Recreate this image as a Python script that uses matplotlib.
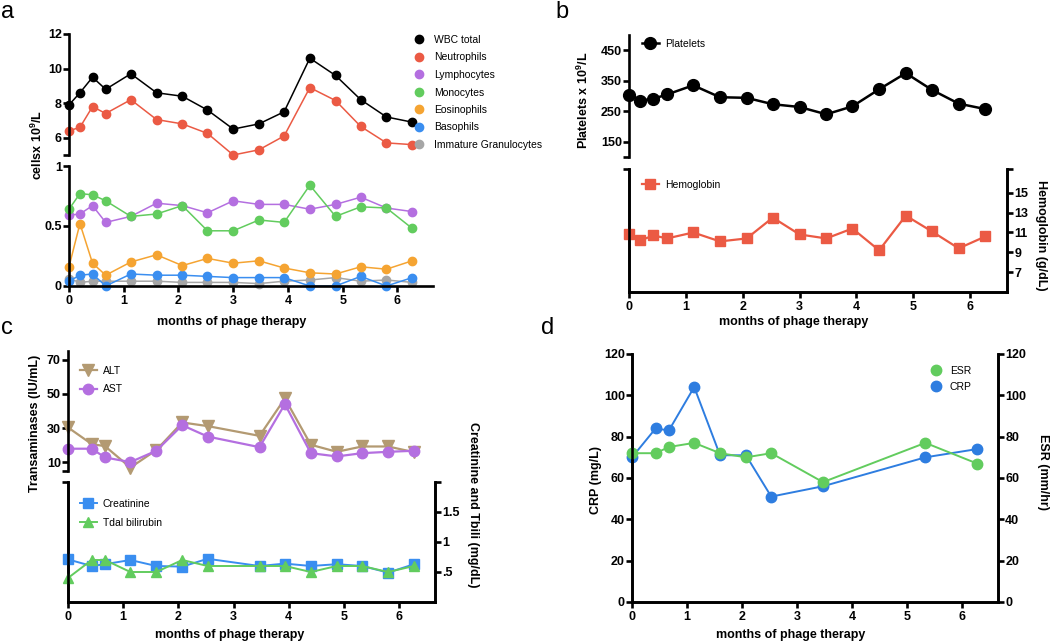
import matplotlib
matplotlib.use("Agg")
import matplotlib.pyplot as plt
from matplotlib.lines import Line2D

plt.rcParams['font.family'] = ['Liberation Sans', 'DejaVu Sans']
plt.rcParams['mathtext.fontset'] = 'custom'
plt.rcParams['mathtext.rm'] = 'Liberation Sans'
plt.rcParams['mathtext.bf'] = 'Liberation Sans:bold'

W, H = 1050, 643

# sampling times (months of phage therapy)
t_all = [0, 0.2, 0.43, 0.67, 1.13, 1.6, 2.07, 2.53, 3.0, 3.47, 3.93, 4.4, 4.87, 5.33, 5.8, 6.27]
t_c = [0, 0.43, 0.67, 1.13, 1.6, 2.07, 2.53, 3.47, 3.93, 4.4, 4.87, 5.33, 5.8, 6.27]
t_d = [0, 0.43, 0.67, 1.13, 1.6, 2.07, 2.53, 3.47, 5.33, 6.27]

# panel a - white cells
wbc = [7.9, 8.6, 9.5, 8.8, 9.7, 8.6, 8.4, 7.6, 6.5, 6.8, 7.5, 10.6, 9.6, 8.2, 7.2, 6.9]
neut = [6.4, 6.6, 7.8, 7.4, 8.2, 7.05, 6.8, 6.25, 5.0, 5.3, 6.1, 8.9, 8.15, 6.65, 5.7, 5.6]
lymph = [0.59, 0.60, 0.67, 0.53, 0.58, 0.69, 0.67, 0.61, 0.71, 0.68, 0.68, 0.64, 0.68, 0.74, 0.65, 0.62]
mono = [0.64, 0.77, 0.76, 0.71, 0.58, 0.60, 0.67, 0.46, 0.46, 0.55, 0.53, 0.84, 0.58, 0.66, 0.65, 0.48]
eos = [0.16, 0.52, 0.19, 0.09, 0.20, 0.26, 0.17, 0.23, 0.19, 0.21, 0.15, 0.11, 0.10, 0.16, 0.14, 0.21]
baso = [0.04, 0.09, 0.10, 0.0, 0.10, 0.09, 0.09, 0.08, 0.07, 0.07, 0.07, 0.0, 0.0, 0.08, 0.0, 0.07]
igran = [0.06, 0.03, 0.04, 0.04, 0.04, 0.04, 0.03, 0.03, 0.03, 0.02, 0.04, 0.05, 0.07, 0.04, 0.05, 0.03]

# panel b
platelets = [304, 285, 291, 305, 335, 296, 294, 273, 264, 240, 266, 322, 375, 320, 275, 257]
hgb = [10.8, 10.2, 10.7, 10.4, 11.0, 10.1, 10.4, 12.5, 10.8, 10.4, 11.4, 9.2, 12.7, 11.1, 9.4, 10.6]

# panel c
alt = [30.4, 20.7, 19.5, 7.0, 17.2, 33.3, 31.2, 25.5, 47.3, 20.3, 16.2, 19.3, 19.3, 16.0]
ast = [18, 18, 12.9, 10.2, 16.8, 31.7, 25.1, 18.9, 44, 15.4, 13.5, 15.4, 16.2, 16.8]
creat = [0.71, 0.60, 0.63, 0.70, 0.60, 0.59, 0.72, 0.60, 0.64, 0.60, 0.63, 0.60, 0.49, 0.63]
tbil = [0.4, 0.7, 0.7, 0.5, 0.5, 0.7, 0.6, 0.6, 0.6, 0.5, 0.6, 0.6, 0.5, 0.6]

# panel d
crp = [70, 84, 83, 104, 71, 71, 51, 56, 70, 74]
esr = [72, 72, 75, 77, 72, 70, 72, 58, 77, 67]

C_BLACK = '#000000'
C_RED = '#EB5A44'
C_PURPLE = '#B46FE0'
C_GREEN = '#62CC5E'
C_ORANGE = '#F5A432'
C_BLUE = '#3A8EF0'
C_GRAY = '#A6A6A6'
C_TAN = '#B39A72'
C_CRP = '#2E7DE0'

SPW = 1.9
TICK = 9


def px_ax(left, top, right, bottom):
    # axes rect from pixel box
    return [left / W, 1 - bottom / H, (right - left) / W, (bottom - top) / H]


def ftxt(x, y, s, **kw):
    fig.text(x / W, 1 - y / H, s, **kw)


def style(ax, spines, xticks=True):
    for k in ['left', 'right', 'top', 'bottom']:
        ax.spines[k].set_visible(k in spines)
        ax.spines[k].set_linewidth(SPW)
    ax.tick_params(width=SPW, length=4.6, labelsize=TICK)
    ax.tick_params(axis='y', pad=0.6)
    ax.tick_params(axis='x', pad=2.2)
    for lab in ax.get_xticklabels() + ax.get_yticklabels():
        lab.set_fontweight('bold')
    if not xticks:
        ax.set_xticks([])
    ax.set_facecolor('none')


def leg(ax, handles, x, y, fs=7.5, **kw):
    return ax.legend(handles=handles, loc='upper left', bbox_to_anchor=(x / W, 1 - y / H),
                     bbox_transform=fig.transFigure, frameon=False, fontsize=fs,
                     borderpad=0, borderaxespad=0, **kw)


fig = plt.figure(figsize=(W / 100, H / 100), dpi=100)

XMAX = 6.65
xt = [0, 1, 2, 3, 4, 5, 6]

# ---------------- panel a ----------------
a_top = fig.add_axes(px_ax(69, 34, 433, 155))
a_bot = fig.add_axes(px_ax(69, 166, 433, 286))
mk = dict(marker='o', ms=6, lw=1.1, clip_on=False)
a_top.plot(t_all, neut, color=C_RED, **mk)
a_top.plot(t_all, wbc, color=C_BLACK, **mk)
a_bot.plot(t_all, igran, color=C_GRAY, **mk)
a_bot.plot(t_all, baso, color=C_BLUE, **mk)
a_bot.plot(t_all, eos, color=C_ORANGE, **mk)
a_bot.plot(t_all, lymph, color=C_PURPLE, **mk)
a_bot.plot(t_all, mono, color=C_GREEN, **mk)
for ax in (a_top, a_bot):
    ax.set_xlim(0, XMAX)
a_top.set_ylim(5, 12)
a_top.set_yticks([5, 6, 8, 10, 12])
a_top.set_yticklabels(['', '6', '8', '10', '12'])
a_bot.set_ylim(0, 1)
a_bot.set_yticks([0, 0.5, 1])
a_bot.set_yticklabels(['0', '0.5', '1'])
a_bot.set_xticks(xt)
style(a_top, ['left'], xticks=False)
style(a_bot, ['left', 'bottom'])
names_a = ['WBC total', 'Neutrophils', 'Lymphocytes', 'Monocytes', 'Eosinophils', 'Basophils',
           'Immature Granulocytes']
cols_a = [C_BLACK, C_RED, C_PURPLE, C_GREEN, C_ORANGE, C_BLUE, C_GRAY]
h_a = [Line2D([], [], ls='none', marker='o', ms=6, color=c, label=n) for n, c in zip(names_a, cols_a)]
leg(a_top, h_a, 413, 35, handlelength=1.2, handletextpad=0.8, labelspacing=0.72)
ftxt(37, 145, 'cellsx 10$^\\mathbf{9}$/L', rotation=90, ha='center', va='center',
     fontsize=9, fontweight='bold')
ftxt(232, 322, 'months of phage therapy', ha='center', va='center', fontsize=9, fontweight='bold')

# ---------------- panel b ----------------
b_top = fig.add_axes(px_ax(629, 35, 1007, 157))
b_bot = fig.add_axes(px_ax(629, 169, 1007, 292))
b_right = b_bot.twinx()
b_top.plot(t_all, platelets, color=C_BLACK, marker='o', ms=8.5, lw=1.8, clip_on=False, label='Platelets')
b_right.plot(t_all, hgb, color=C_RED, marker='s', ms=7.5, lw=1.6, clip_on=False, label='Hemoglobin')
for ax in (b_top, b_bot, b_right):
    ax.set_xlim(0, XMAX)
b_top.set_ylim(100, 500)
b_top.set_yticks([100, 150, 250, 350, 450])
b_top.set_yticklabels(['', '150', '250', '350', '450'])
b_bot.set_ylim(0, 1)
b_bot.set_yticks([1])
b_bot.set_yticklabels([''])
b_right.set_ylim(5, 17.4)
b_right.set_yticks([7, 9, 11, 13, 15, 17.4])
b_right.set_yticklabels(['7', '9', '11', '13', '15', ''])
b_bot.set_xticks(xt)
style(b_top, ['left'], xticks=False)
style(b_bot, ['left', 'bottom', 'right'])
style(b_right, ['left', 'bottom', 'right'])
leg(b_top, b_top.get_lines(), 642, 39, handlelength=1.6, handletextpad=0.6)
leg(b_right, b_right.get_lines(), 642, 180, handlelength=1.6, handletextpad=0.6)
ftxt(583, 100, 'Platelets x 10$^\\mathbf{9}$/L', rotation=90, ha='center', va='center',
     fontsize=9, fontweight='bold')
ftxt(1041, 235, 'Hemoglobin (g/dL)', rotation=270, ha='center', va='center',
     fontsize=9, fontweight='bold')
ftxt(794, 322, 'months of phage therapy', ha='center', va='center', fontsize=9, fontweight='bold')

# ---------------- panel c ----------------
c_top = fig.add_axes(px_ax(68, 351, 435, 471))
c_bot = fig.add_axes(px_ax(68, 482, 435, 602))
c_right = c_bot.twinx()
c_top.plot(t_c, alt, color=C_TAN, marker='v', ms=8, lw=1.6, clip_on=False, label='ALT')
c_top.plot(t_c, ast, color=C_PURPLE, marker='o', ms=7.5, lw=1.6, clip_on=False, label='AST')
c_right.plot(t_c, creat, color=C_BLUE, marker='s', ms=7.5, lw=1.4, clip_on=False, label='Creatinine')
c_right.plot(t_c, tbil, color=C_GREEN, marker='^', ms=7.5, lw=1.4, clip_on=False, label='Tdal bilirubin')
for ax in (c_top, c_bot, c_right):
    ax.set_xlim(0, XMAX)
c_top.set_ylim(5, 75)
c_top.set_yticks([5, 10, 30, 50, 70])
c_top.set_yticklabels(['', '10', '30', '50', '70'])
c_bot.set_ylim(0, 1)
c_bot.set_yticks([1])
c_bot.set_yticklabels([''])
c_right.set_ylim(0, 2)
c_right.set_yticks([0.5, 1, 1.5, 2])
c_right.set_yticklabels(['.5', '1', '1.5', ''])
c_bot.set_xticks(xt)
style(c_top, ['left'], xticks=False)
style(c_bot, ['left', 'bottom', 'right'])
style(c_right, ['left', 'bottom', 'right'])
leg(c_top, c_top.get_lines(), 80, 366, handlelength=1.6, handletextpad=0.6, labelspacing=0.8)
leg(c_right, c_right.get_lines(), 80, 499, handlelength=1.6, handletextpad=0.6, labelspacing=0.85)
ftxt(35, 423, 'Transaminases (IU/mL)', rotation=90, ha='center', va='center',
     fontsize=9, fontweight='bold')
ftxt(473, 505, 'Creatinine and Tbili (mg/dL)', rotation=270, ha='center', va='center',
     fontsize=9, fontweight='bold')
ftxt(230, 635, 'months of phage therapy', ha='center', va='center', fontsize=9, fontweight='bold')

# ---------------- panel d ----------------
d_ax = fig.add_axes(px_ax(632, 354, 998, 602))
d_r = d_ax.twinx()
d_ax.plot(t_d, crp, color=C_CRP, marker='o', ms=7.5, lw=1.4, clip_on=False, label='CRP')
d_r.plot(t_d, esr, color=C_GREEN, marker='o', ms=7.5, lw=1.4, clip_on=False, label='ESR')
d_ax.set_xlim(0, XMAX)
for ax in (d_ax, d_r):
    ax.set_ylim(0, 120)
    ax.set_yticks(range(0, 121, 20))
d_ax.set_xticks(xt)
style(d_ax, ['left', 'bottom', 'right'])
style(d_r, ['left', 'bottom', 'right'])
h_d = [Line2D([], [], ls='none', marker='o', ms=7.5, color=C_GREEN, label='ESR'),
       Line2D([], [], ls='none', marker='o', ms=7.5, color=C_CRP, label='CRP')]
leg(d_r, h_d, 930, 366, handlelength=1.2, handletextpad=0.7, labelspacing=0.55)
ftxt(596, 480, 'CRP (mg/L)', rotation=90, ha='center', va='center', fontsize=9, fontweight='bold')
ftxt(1043, 472, 'ESR (mm/hr)', rotation=270, ha='center', va='center', fontsize=9, fontweight='bold')
ftxt(791, 635, 'months of phage therapy', ha='center', va='center', fontsize=9, fontweight='bold')

# panel letters
for lab, x, y in [('a', 1, 12), ('b', 555, 12), ('c', 1, 328), ('d', 541, 328)]:
    ftxt(x, y, lab, ha='left', va='center', fontsize=17)

fig.savefig('out.png', dpi=100)
